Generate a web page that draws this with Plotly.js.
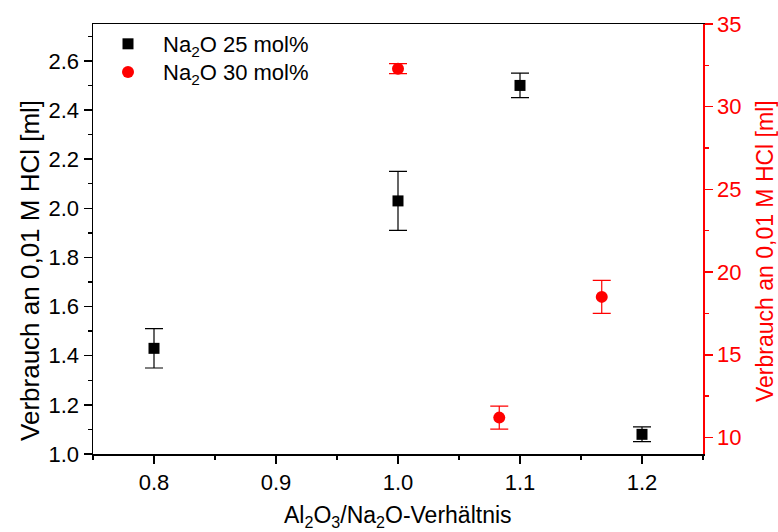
<!DOCTYPE html>
<html>
<head>
<meta charset="utf-8">
<script src="https://cdn.plot.ly/plotly-3.0.1.min.js"></script>
<style>
  html, body { margin: 0; padding: 0; background: #fff; }
  #chart { width: 778px; height: 532px; }
</style>
</head>
<body>
<div id="chart"></div>
<script>
// Na2O 25 mol% series (left axis)
const ratio25 = [0.8, 1.0, 1.1, 1.2];
const hcl25 = [1.43, 2.03, 2.50, 1.08];
const err25 = [0.08, 0.12, 0.05, 0.03];

// Na2O 30 mol% series (right axis)
const ratio30 = [1.0, 1.083, 1.167];
const hcl30 = [32.3, 11.2, 18.5];
const err30 = [0.3, 0.7, 1.0];

const seriesNames = ['Na<sub>2</sub>O 25 mol%', 'Na<sub>2</sub>O 30 mol%'];
const xTitle = 'Al<sub>2</sub>O<sub>3</sub>/Na<sub>2</sub>O-Verhältnis';
const yTitle = 'Verbrauch an 0,01 M HCl [ml]';

const FONT = 'Liberation Sans, Arial, sans-serif';
const RED = '#ff0000';

const traces = [
  {
    x: ratio25, y: hcl25, name: seriesNames[0],
    type: 'scatter', mode: 'markers',
    marker: { symbol: 'square', size: 11, color: '#000000' },
    error_y: { type: 'data', array: err25, visible: true, color: '#000000', thickness: 1.2, width: 9 },
    yaxis: 'y', legend: 'legend'
  },
  {
    x: ratio30, y: hcl30, name: seriesNames[1],
    type: 'scatter', mode: 'markers',
    marker: { symbol: 'circle', size: 12, color: RED },
    error_y: { type: 'data', array: err30, visible: true, color: RED, thickness: 1.2, width: 9 },
    yaxis: 'y2', legend: 'legend2'
  }
];

// one legend box per series so the rows sit close together
const legendBox = (y) => ({
  x: 0.0, y: y, xanchor: 'left', yanchor: 'top',
  bgcolor: 'rgba(0,0,0,0)', borderwidth: 0,
  font: { family: FONT, size: 22, color: '#000000' },
  itemwidth: 60
});

const layout = {
  width: 778, height: 532,
  margin: { l: 93, r: 75, t: 24, b: 78 },
  paper_bgcolor: '#ffffff', plot_bgcolor: '#ffffff',
  font: { family: FONT, size: 22, color: '#000000' },
  showlegend: true,
  legend: legendBox(1.0023),
  legend2: legendBox(0.937),
  xaxis: {
    range: [0.75, 1.25], dtick: 0.1, tick0: 0.8, tickformat: '.1f',
    ticks: 'outside', ticklen: 8, tickwidth: 1.5, tickcolor: '#000',
    minor: { dtick: 0.05, tick0: 0.75, ticks: 'outside', ticklen: 4, tickwidth: 1.5, tickcolor: '#000' },
    showline: true, linecolor: '#000', linewidth: 1.5, mirror: true,
    showgrid: false, zeroline: false,
    tickfont: { family: FONT, size: 22, color: '#000' }
  },
  yaxis: {
    range: [1.0, 2.75], dtick: 0.2, tick0: 1.0, tickformat: '.1f',
    ticks: 'outside', ticklen: 8, tickwidth: 1.5, tickcolor: '#000',
    minor: { dtick: 0.1, tick0: 1.0, ticks: 'outside', ticklen: 4, tickwidth: 1.5, tickcolor: '#000' },
    showline: true, linecolor: '#000', linewidth: 1.5,
    showgrid: false, zeroline: false,
    tickfont: { family: FONT, size: 22, color: '#000' }
  },
  yaxis2: {
    overlaying: 'y', side: 'right', anchor: 'x',
    range: [9, 35], dtick: 5, tick0: 10,
    ticks: 'outside', ticklen: 8, tickwidth: 1.5, tickcolor: RED,
    minor: { dtick: 2.5, tick0: 10, ticks: 'outside', ticklen: 4, tickwidth: 1.5, tickcolor: RED },
    showline: true, linecolor: RED, linewidth: 1.5,
    showgrid: false, zeroline: false,
    tickfont: { family: FONT, size: 22, color: RED }
  },
  annotations: [
    {
      text: xTitle, xref: 'paper', yref: 'paper', x: 0.5, y: -0.1465,
      xanchor: 'center', yanchor: 'middle', showarrow: false,
      font: { family: FONT, size: 23, color: '#000' }
    },
    {
      text: yTitle, xref: 'paper', yref: 'paper', x: -0.1033, y: 0.428,
      xanchor: 'center', yanchor: 'middle', showarrow: false, textangle: -90,
      font: { family: FONT, size: 26, color: '#000' }
    },
    {
      text: yTitle, xref: 'paper', yref: 'paper', x: 1.1016, y: 0.472,
      xanchor: 'center', yanchor: 'middle', showarrow: false, textangle: -90,
      font: { family: FONT, size: 23, color: RED }
    }
  ]
};

Plotly.newPlot('chart', traces, layout, { displayModeBar: false, staticPlot: true });
</script>
</body>
</html>
